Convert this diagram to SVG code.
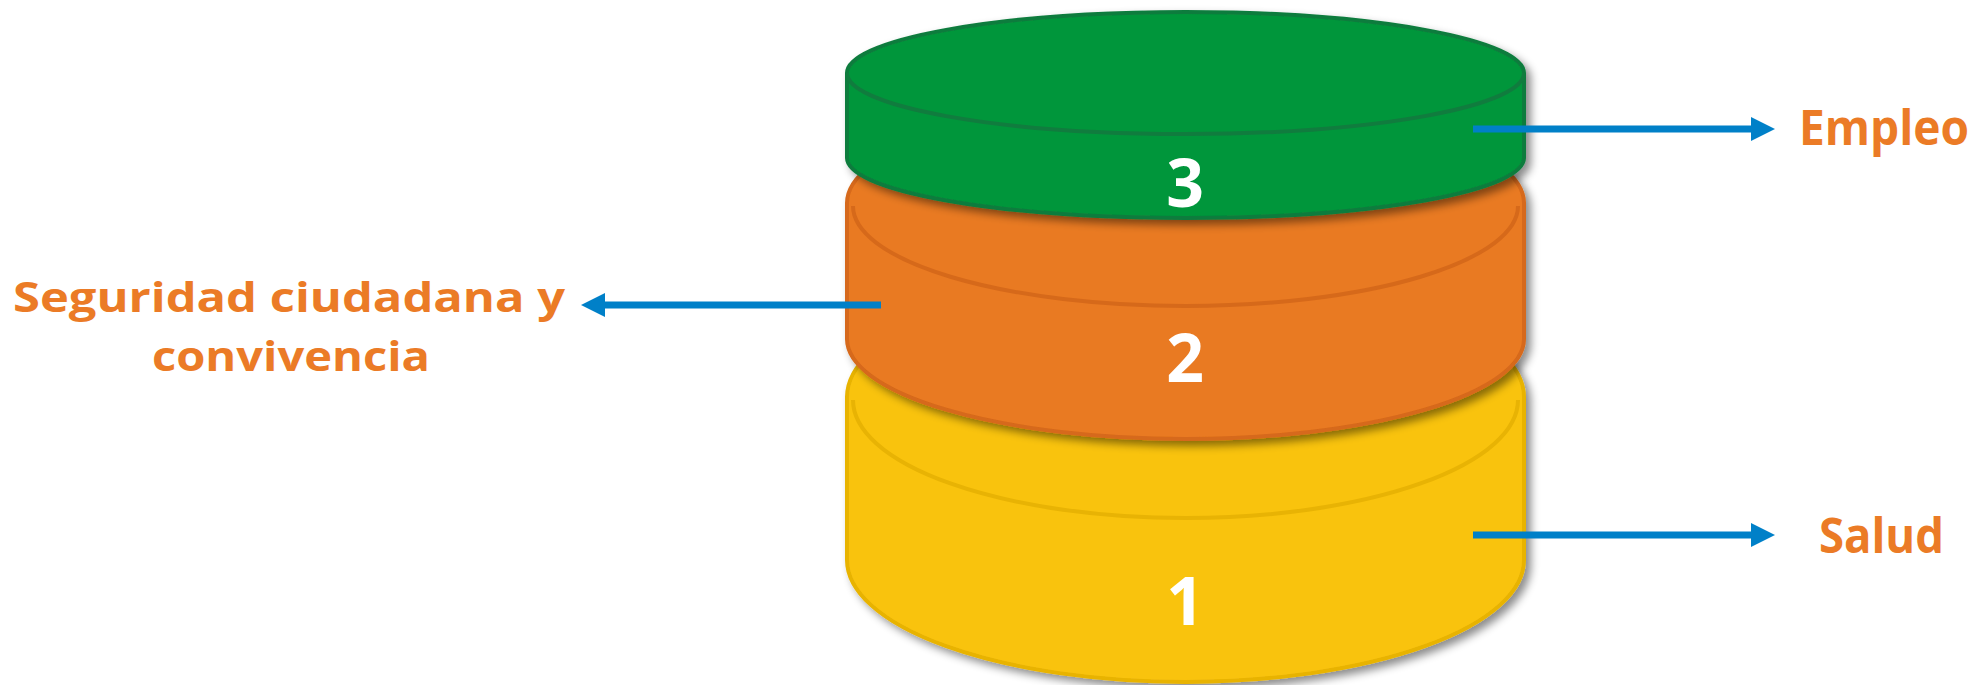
<svg xmlns="http://www.w3.org/2000/svg" width="1983" height="685" viewBox="0 0 1983 685">
<defs>
<filter id="sh" x="-10%" y="-20%" width="125%" height="150%">
<feDropShadow dx="5" dy="5" stdDeviation="4" flood-color="#000" flood-opacity="0.45"/>
</filter>
<marker id="ah" markerWidth="24" markerHeight="24" viewBox="0 0 24 24" refX="2" refY="12" orient="auto" markerUnits="userSpaceOnUse">
<path d="M0,0 L24,12 L0,24 Z" fill="#0080C8"/>
</marker>
<style>
.lbl{font-family:"Open Sans","Liberation Sans",sans-serif;font-weight:bold;font-size:48px;fill:#EB7B26}
.sm{font-size:42px}
.num{font-family:"Open Sans","Liberation Sans",sans-serif;font-weight:bold;font-size:66px;fill:#FFFFFF;text-anchor:middle}
.conn{stroke:#0080C8;stroke-width:7;fill:none;marker-end:url(#ah)}
.g{fill:#00963A;stroke:#107C3E;stroke-width:4}
.o{fill:#E97A22;stroke:#D6691A;stroke-width:4}
.y{fill:#F9C30E;stroke:#E8B304;stroke-width:4}
.edge{fill:none;stroke-width:4}
</style>
</defs>
<rect width="1983" height="685" fill="#FFFFFF"/>
<g id="layer1">
<path class="y" filter="url(#sh)" d="M847,397 A338.5,122 0 0 1 1524,397 L1524,560 A338.5,122 0 0 1 847,560 Z"/>
<path class="edge" stroke="#E8B304" d="M853,400 A332.5,118 0 0 0 1518,400"/>
<text class="num" x="1185" y="625">1</text>
</g>
<g id="layer2">
<path class="o" filter="url(#sh)" d="M847,203 A338.5,102 0 0 1 1524,203 L1524,339 A338.5,100 0 0 1 847,339 Z"/>
<path class="edge" stroke="#D6691A" d="M853,206 A332.5,100 0 0 0 1518,206"/>
<text class="num" x="1185" y="382">2</text>
</g>
<g id="layer3">
<path class="g" filter="url(#sh)" d="M847,73 A338.5,61 0 0 1 1524,73 L1524,158 A338.5,60 0 0 1 847,158 Z"/>
<path class="edge" stroke="#107C3E" d="M847,73 A338.5,61 0 0 0 1524,73"/>
<text class="num" x="1185" y="207">3</text>
</g>
<g id="connectors">
<line class="conn" x1="1473" y1="129" x2="1753" y2="129"/>
<line class="conn" x1="1473" y1="535" x2="1753" y2="535"/>
<line class="conn" x1="881" y1="305" x2="603" y2="305"/>
</g>
<g id="labels">
<text class="lbl sm" x="13" y="312" textLength="552" lengthAdjust="spacingAndGlyphs">Seguridad ciudadana y</text>
<text class="lbl sm" x="152" y="371" textLength="278" lengthAdjust="spacingAndGlyphs">convivencia</text>
<text class="lbl" x="1799" y="145" textLength="170" lengthAdjust="spacingAndGlyphs">Empleo</text>
<text class="lbl" x="1819" y="553" textLength="125" lengthAdjust="spacingAndGlyphs">Salud</text>
</g>
</svg>
